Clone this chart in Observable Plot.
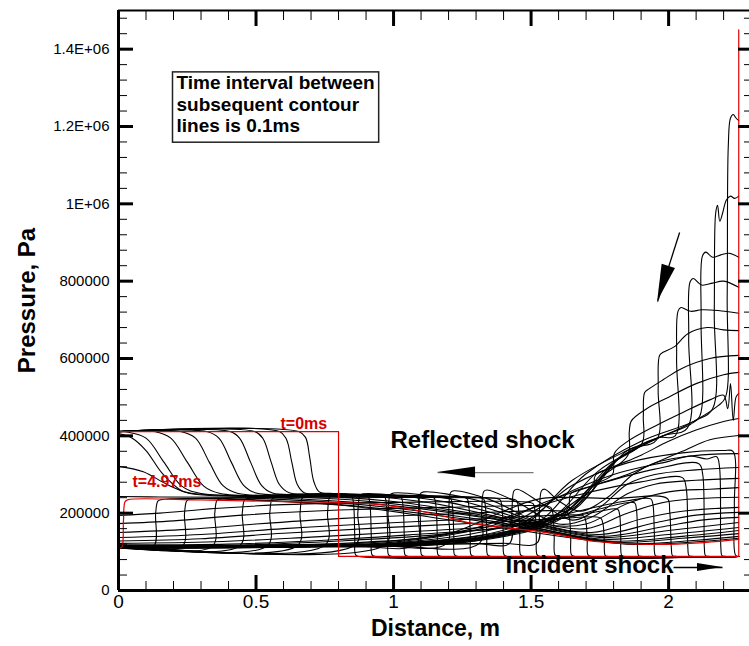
<!DOCTYPE html>
<html><head><meta charset="utf-8">
<script src="https://cdn.jsdelivr.net/npm/d3@7"></script>
<script src="https://cdn.jsdelivr.net/npm/@observablehq/plot@0.6"></script>
<style>
html,body{margin:0;padding:0;background:#fff;overflow:hidden;}
#chart{width:749px;height:646px;}
</style></head><body><div id="chart"></div>
<script>
// ---------- axis ticks / labels ----------
const xMajor = [0, 0.5, 1, 1.5, 2];
const xMajorLabels = ["0", "0.5", "1", "1.5", "2"];
const xMinor = [0.1,0.2,0.3,0.4,0.6,0.7,0.8,0.9,1.1,1.2,1.3,1.4,1.6,1.7,1.8,1.9,2.1,2.2];
const yMajor = [0, 200000, 400000, 600000, 800000, 1000000, 1200000, 1400000];
const yMajorLabels = ["0", "200000", "400000", "600000", "800000", "1E+06", "1.2E+06", "1.4E+06"];
const yMinor = [40000,80000,120000,160000,240000,280000,320000,360000,440000,480000,520000,560000,
  640000,680000,720000,760000,840000,880000,920000,960000,1040000,1080000,1120000,1160000,
  1240000,1280000,1320000,1360000,1440000,1480000];

// ---------- pressure profiles: flat [x (m), p (kPa), ...] ----------
const redT0 = [0,411, 0.8,411, 0.8,88, 2.255,88, 2.255,1450];
const redT497 = [0,109, 0.012,112, 0.018,180, 0.024,230, 0.035,235, 0.30,234, 0.60,230, 0.92,224, 1.05,212, 1.17,194, 1.29,173, 1.44,160, 1.58,147, 1.71,129, 1.83,122, 1.95,119, 2.13,124, 2.255,132];

const blackTimes = ["0.1","0.2","0.3","0.4","0.5","0.6","0.7","0.8","0.9","1.0","1.1","1.2","1.3","1.4","1.5","1.6","1.7","1.8","1.9","2.0","2.1","2.2","2.3","2.4","2.5","2.6","2.7","2.8","2.9","3.0","3.1","3.2","3.3","3.4","3.5","3.6","3.7","3.8","3.9","4.0","4.1","4.2","4.3","4.4","4.5","4.6","4.7","4.8","4.9"];
const blackProfiles = [
 [0,411, 0.655,411, 0.68,396, 0.695,345, 0.71,282, 0.73,255, 0.78,251, 0.835,249, 0.848,245, 0.855,220, 0.859,140, 0.862,92, 0.875,88, 2.255,88],
 [0,411, 0.585,411, 0.61,392, 0.63,332, 0.65,274, 0.675,253, 0.75,250, 0.895,247, 0.908,243, 0.915,216, 0.919,140, 0.922,92, 0.935,88, 2.255,88],
 [0,411, 0.495,411, 0.525,393, 0.555,332, 0.585,274, 0.62,253, 0.72,250, 0.955,246, 0.968,242, 0.975,215, 0.979,140, 0.982,92, 0.995,88, 2.255,88],
 [0,411, 0.405,411, 0.44,394, 0.48,332, 0.52,272, 0.56,252, 0.70,249, 1.015,245, 1.028,241, 1.035,214, 1.039,140, 1.042,92, 1.055,88, 2.255,88],
 [0,411, 0.32,411, 0.365,394, 0.41,332, 0.455,272, 0.50,252, 0.70,248, 1.075,244, 1.088,240, 1.095,213, 1.099,140, 1.102,92, 1.115,88, 2.255,88],
 [0,411, 0.225,411, 0.28,394, 0.33,332, 0.38,271, 0.435,251, 0.70,247, 1.135,243, 1.148,239, 1.155,212, 1.159,140, 1.162,92, 1.175,88, 2.255,88],
 [0,411, 0.13,411, 0.19,394, 0.25,332, 0.31,270, 0.37,251, 0.70,246, 1.195,242, 1.208,238, 1.215,211, 1.219,140, 1.222,92, 1.235,88, 2.255,88],
 [0,411, 0.03,410, 0.10,394, 0.165,332, 0.23,270, 0.30,251, 0.70,245, 1.255,241, 1.268,237, 1.275,210, 1.279,140, 1.282,92, 1.295,88, 2.255,88],
 [0,406, 0.05,394, 0.10,362, 0.16,302, 0.23,258, 0.30,249, 0.70,244, 1.315,240, 1.328,236, 1.335,209, 1.339,140, 1.342,92, 1.355,88, 2.255,88],
 [0,321, 0.09,307, 0.18,273, 0.26,251, 0.70,243, 1.375,238, 1.388,234, 1.395,208, 1.399,140, 1.402,92, 1.415,88, 2.255,88],
 [0,243, 0.15,242, 0.70,240, 1.435,236, 1.448,232, 1.455,206, 1.459,140, 1.462,92, 1.475,88, 2.255,88],
 [0,194, 0.15,200, 0.35,212, 0.60,222, 1.00,228, 1.495,228, 1.508,224, 1.515,200, 1.519,140, 1.522,92, 1.535,88, 2.255,88],
 [0,173, 0.20,180, 0.45,195, 0.80,208, 1.20,215, 1.56,218, 1.573,214, 1.580,195, 1.584,140, 1.587,92, 1.60,88, 2.255,88],
 [0,150, 0.25,158, 0.50,172, 0.80,186, 1.20,198, 1.62,205, 1.633,201, 1.640,185, 1.644,135, 1.647,92, 1.66,88, 2.255,88],
 [0,137, 0.30,145, 0.60,160, 0.90,172, 1.30,185, 1.68,195, 1.693,192, 1.700,175, 1.704,130, 1.707,92, 1.72,88, 2.255,88],
 [0,128, 0.30,134, 0.60,148, 0.95,162, 1.35,176, 1.60,186, 1.74,190, 1.755,186, 1.762,170, 1.766,130, 1.770,90, 1.783,88, 2.255,88],
 [0,122, 0.35,126, 0.70,138, 1.00,150, 1.35,165, 1.60,185, 1.75,205, 1.815,210, 1.822,196, 1.826,140, 1.830,90, 1.843,88, 2.255,88],
 [0,118, 0.40,120, 0.80,132, 1.10,146, 1.40,162, 1.65,192, 1.80,220, 1.876,227, 1.883,210, 1.887,150, 1.891,90, 1.904,88, 2.255,88],
 [0,116, 0.40,117, 0.80,128, 1.20,147, 1.50,176, 1.70,210, 1.85,232, 1.935,237, 1.943,222, 1.948,150, 1.952,90, 1.965,88, 2.255,88],
 [0,114, 0.50,116, 0.90,125, 1.20,147, 1.40,205, 1.53,237, 1.80,238, 1.995,238, 2.004,205, 2.010,110, 2.014,90, 2.03,88, 2.255,88],
 [0,112, 0.50,114, 1.00,128, 1.30,162, 1.50,212, 1.70,252, 1.90,281, 2.05,292, 2.064,265, 2.070,110, 2.074,90, 2.09,88, 2.255,88],
 [0,111, 0.50,113, 1.00,125, 1.35,166, 1.55,228, 1.75,276, 1.95,314, 2.11,328, 2.124,300, 2.130,110, 2.134,90, 2.15,88, 2.255,88],
 [0,110, 0.50,112, 1.00,123, 1.40,166, 1.60,242, 1.80,300, 2.00,334, 2.08,348, 2.14,340, 2.175,346, 2.185,320, 2.190,110, 2.194,90, 2.21,88, 2.255,88],
 [0,110, 0.50,111, 1.00,121, 1.45,168, 1.65,272, 1.85,330, 2.05,356, 2.20,362, 2.234,360, 2.239,220, 2.243,92, 2.255,88],
 [0,110, 0.50,112, 1.00,121, 1.45,160, 1.65,285, 1.85,362, 2.05,422, 2.18,478, 2.207,500, 2.213,760, 2.217,1150, 2.225,1222, 2.235,1231, 2.245,1222, 2.255,1215],
 [0,110, 0.60,113, 1.05,121, 1.50,166, 1.70,302, 1.90,386, 2.10,440, 2.160,470, 2.166,720, 2.171,975, 2.178,996, 2.186,955, 2.196,975, 2.210,1010, 2.225,1020, 2.240,1014, 2.255,1020],
 [0,110, 0.60,113, 1.10,121, 1.55,176, 1.75,312, 1.95,390, 2.08,430, 2.113,450, 2.118,700, 2.123,865, 2.135,875, 2.160,862, 2.190,868, 2.220,872, 2.255,862],
 [0,110, 0.60,113, 1.15,122, 1.60,192, 1.80,332, 1.98,400, 2.068,420, 2.073,650, 2.078,798, 2.090,807, 2.120,790, 2.160,795, 2.200,800, 2.255,784],
 [0,111, 0.70,114, 1.20,124, 1.62,202, 1.82,342, 1.96,395, 2.024,400, 2.029,600, 2.034,722, 2.045,732, 2.080,722, 2.120,726, 2.180,724, 2.255,717],
 [0,111, 0.70,114, 1.25,126, 1.65,212, 1.85,362, 1.957,390, 1.962,520, 1.967,608, 1.980,616, 2.020,630, 2.070,664, 2.140,680, 2.200,674, 2.255,672],
 [0,112, 0.80,116, 1.30,129, 1.65,206, 1.80,330, 1.903,380, 1.908,450, 1.913,512, 1.930,522, 1.980,545, 2.050,575, 2.150,600, 2.255,608],
 [0,112, 0.80,116, 1.35,133, 1.62,190, 1.75,290, 1.852,350, 1.857,410, 1.864,438, 1.920,470, 2.000,500, 2.100,535, 2.200,558, 2.255,564],
 [0,113, 0.90,117, 1.35,136, 1.60,186, 1.72,270, 1.796,300, 1.803,355, 1.850,385, 1.950,425, 2.050,460, 2.150,493, 2.200,505, 2.215,470, 2.225,535, 2.235,440, 2.245,500, 2.255,510],
 [0,113, 0.90,117, 1.30,140, 1.55,180, 1.68,240, 1.726,260, 1.734,298, 1.800,320, 1.900,350, 2.000,386, 2.100,415, 2.200,437, 2.255,445],
 [0,114, 1.00,119, 1.40,150, 1.60,200, 1.636,215, 1.644,250, 1.720,270, 1.850,300, 1.950,330, 2.050,360, 2.150,390, 2.255,401],
 [0,114, 1.00,119, 1.40,122, 1.522,123, 1.530,200, 1.538,258, 1.550,262, 1.600,232, 1.680,205, 1.780,242, 1.870,300, 1.950,330, 2.050,345, 2.150,352, 2.255,354],
 [0,114, 1.00,119, 1.30,121, 1.422,122, 1.430,200, 1.438,258, 1.450,262, 1.550,220, 1.650,182, 1.750,215, 1.850,275, 1.950,300, 2.100,312, 2.255,318],
 [0,115, 0.90,119, 1.312,122, 1.320,200, 1.328,256, 1.340,260, 1.450,228, 1.600,172, 1.720,190, 1.850,250, 1.950,275, 2.100,285, 2.255,290],
 [0,115, 0.90,118, 1.192,121, 1.200,200, 1.208,254, 1.220,258, 1.350,235, 1.550,172, 1.700,172, 1.850,225, 2.000,255, 2.150,262, 2.255,266],
 [0,115, 0.80,118, 1.082,120, 1.090,200, 1.098,251, 1.110,255, 1.300,234, 1.500,182, 1.700,160, 1.850,200, 2.000,230, 2.255,241],
 [0,116, 0.972,120, 0.980,200, 0.988,248, 1.000,252, 1.250,231, 1.500,178, 1.720,150, 1.900,185, 2.050,205, 2.255,215],
 [0,116, 0.862,119, 0.870,200, 0.878,246, 0.890,250, 1.200,228, 1.500,175, 1.750,145, 1.950,175, 2.100,195, 2.255,202],
 [0,116, 0.752,118, 0.760,200, 0.768,242, 0.780,246, 1.100,230, 1.450,180, 1.750,140, 1.980,165, 2.120,182, 2.255,189],
 [0,116, 0.652,117, 0.660,200, 0.668,239, 0.680,243, 1.000,230, 1.400,185, 1.750,137, 2.000,155, 2.255,176],
 [0,115, 0.542,116, 0.550,200, 0.558,236, 0.570,240, 0.950,228, 1.350,188, 1.750,133, 2.000,145, 2.255,163],
 [0,115, 0.442,116, 0.450,200, 0.458,234, 0.470,238, 0.900,226, 1.350,186, 1.780,128, 2.050,140, 2.255,155],
 [0,114, 0.342,115, 0.350,200, 0.358,233, 0.370,237, 0.850,224, 1.350,180, 1.800,125, 2.050,135, 2.255,147],
 [0,113, 0.232,114, 0.240,200, 0.248,232, 0.260,236, 0.800,222, 1.350,176, 1.820,122, 2.100,130, 2.255,140],
 [0,112, 0.127,113, 0.135,200, 0.143,231, 0.155,235, 0.800,221, 1.300,172, 1.850,120, 2.100,126, 2.255,135]
];

// ---------- annotations (data coordinates: x in m, p in kPa) ----------
const noteText  = ["t=0ms", "t=4.97ms", "Reflected shock", "Incident shock"];
const noteX     = [0.589, 0.051, 0.989, 1.407];
const noteP     = [432, 282, 388, 65];
const noteColor = ["#d40000", "#d40000", "black", "black"];
const noteSize  = [16, 16, 24, 24];
const boxText = "Time interval between\nsubsequent contour\nlines is 0.1ms";

const arrowX1 = [1.509, 2.018, 2.040];
const arrowP1 = [305, 59.5, 926];
const arrowX2 = [1.160, 2.196, 1.960];
const arrowP2 = [305, 59.5, 747];
const arrowStroke = ["#777", "black", "black"];
const arrowHead = [38, 25, 37];
const arrowHalf = [5.5, 4, 7];

// ---------- build tables ----------
function toRows(arr, t) {
  const out = [];
  for (let j = 0; j < arr.length; j += 2) out.push({t, x: arr[j], p: arr[j + 1] * 1000});
  return out;
}
const blackRows = blackTimes.flatMap((t, i) => toRows(blackProfiles[i], t));
const red0Rows = toRows(redT0, "0");
const red497Rows = toRows(redT497, "4.97");
const arrows = arrowX1.map((_, i) => ({x1: arrowX1[i], y1: arrowP1[i] * 1000, x2: arrowX2[i], y2: arrowP2[i] * 1000, stroke: arrowStroke[i], head: arrowHead[i], half: arrowHalf[i]}));
const notes = noteText.map((s, i) => ({s, x: noteX[i], y: noteP[i] * 1000, c: noteColor[i], f: noteSize[i]}));
const yLab = new Map(yMajor.map((v, i) => [v, yMajorLabels[i]]));
const xLab = new Map(xMajor.map((v, i) => [v, xMajorLabels[i]]));

const FONT = "'Liberation Sans', Arial, Helvetica, sans-serif";

const chart = Plot.plot({
  width: 749, height: 646,
  marginLeft: 118, marginRight: -3, marginTop: 10, marginBottom: 56,
  x: {domain: [0, 2.305]},
  y: {domain: [0, 1500000]},
  style: {fontFamily: FONT, background: "white", color: "black", overflow: "hidden"},
  marks: [
    Plot.line(blackRows, {x: "x", y: "p", z: "t", stroke: "black", strokeWidth: 1.1, curve: "catmull-rom"}),
    Plot.line(red0Rows, {x: "x", y: "p", stroke: "#e00000", strokeWidth: 1.2, curve: "linear"}),
    Plot.line(red497Rows, {x: "x", y: "p", stroke: "#e00000", strokeWidth: 1.2, curve: "catmull-rom"}),
    // frame
    Plot.ruleX([0], {strokeWidth: 3}),
    Plot.ruleY([0], {strokeWidth: 3}),
    Plot.ruleY([1500000], {strokeWidth: 2}),
    Plot.ruleX([2.305], {strokeWidth: 3}),
    // ticks (inward)
    Plot.axisY({anchor: "left", ticks: yMajor, tickSize: -15, strokeWidth: 3, fill: "none", label: null}),
    Plot.axisY({anchor: "left", ticks: yMinor, tickSize: -9, strokeWidth: 1, fill: "none", label: null}),
    Plot.axisY({anchor: "right", ticks: yMajor, tickSize: -15, strokeWidth: 3, fill: "none", label: null}),
    Plot.axisY({anchor: "right", ticks: yMinor, tickSize: -9, strokeWidth: 1, fill: "none", label: null}),
    Plot.axisX({anchor: "bottom", ticks: xMajor, tickSize: -15, strokeWidth: 3, fill: "none", label: null}),
    Plot.axisX({anchor: "bottom", ticks: xMinor, tickSize: -9, strokeWidth: 1, fill: "none", label: null}),
    Plot.axisX({anchor: "top", ticks: xMajor, tickSize: -15, strokeWidth: 3, fill: "none", label: null}),
    Plot.axisX({anchor: "top", ticks: xMinor, tickSize: -9, strokeWidth: 1, fill: "none", label: null}),
    // tick labels
    Plot.axisY({anchor: "left", ticks: yMajor, tickSize: 0, tickPadding: 9, tickFormat: d => yLab.get(d), fontSize: 15, label: null}),
    Plot.axisX({anchor: "bottom", ticks: xMajor, tickSize: 0, tickPadding: 4, tickFormat: d => xLab.get(d), fontSize: 19, label: null}),
    // axis titles
    Plot.text(["Pressure, Pa"], {text: d => d, frameAnchor: "left", dx: -91, rotate: -90, textAnchor: "middle", lineAnchor: "middle", fontSize: 24, fontWeight: "bold"}),
    Plot.text(["Distance, m"], {text: d => d, frameAnchor: "bottom", dy: 38, textAnchor: "middle", lineAnchor: "middle", fontSize: 23, fontWeight: "bold"}),
    // arrows (lines)
    Plot.link(arrows, {x1: "x1", y1: "y1", x2: "x2", y2: "y2", stroke: "stroke", strokeWidth: 1.3}),
    // notes
    Plot.text(notes, {x: "x", y: "y", text: "s", fill: "c", fontSize: "f", fontWeight: "bold", textAnchor: "start"}),
    Plot.text([boxText], {text: d => d, frameAnchor: "top-left", dx: 58, dy: 63, lineAnchor: "top", textAnchor: "start", fontSize: 19, fontWeight: "bold", lineHeight: 1.14, className: "boxnote"})
  ]
});

document.getElementById("chart").appendChild(chart);

// arrowheads and note box drawn with the plot's own scales
const svg = d3.select(chart);
const sx = chart.scale("x"), sy = chart.scale("y");
arrows.forEach(a => {
  const x1 = sx.apply(a.x1), y1 = sy.apply(a.y1), x2 = sx.apply(a.x2), y2 = sy.apply(a.y2);
  const dx = x2 - x1, dy = y2 - y1, L = Math.hypot(dx, dy), ux = dx / L, uy = dy / L;
  const bx = x2 - ux * a.head, by = y2 - uy * a.head;
  const pts = [[x2, y2], [bx - uy * a.half, by + ux * a.half], [bx + uy * a.half, by - ux * a.half]];
  svg.append("polygon").attr("points", pts.map(p => p.join(",")).join(" ")).attr("fill", "black");
});
const boxNode = chart.querySelector("g.boxnote text");
if (boxNode) {
  const bb = boxNode.getBBox();
  const parent = boxNode.parentNode;
  const rect = document.createElementNS("http://www.w3.org/2000/svg", "rect");
  const tf = boxNode.getAttribute("transform");
  if (tf) rect.setAttribute("transform", tf);
  rect.setAttribute("x", bb.x - 4);
  rect.setAttribute("y", bb.y);
  rect.setAttribute("width", bb.width + 8);
  rect.setAttribute("height", bb.height + 6);
  rect.setAttribute("fill", "white");
  rect.setAttribute("stroke", "#222");
  rect.setAttribute("stroke-width", 1.5);
  parent.insertBefore(rect, boxNode);
}
</script>
</body></html>
